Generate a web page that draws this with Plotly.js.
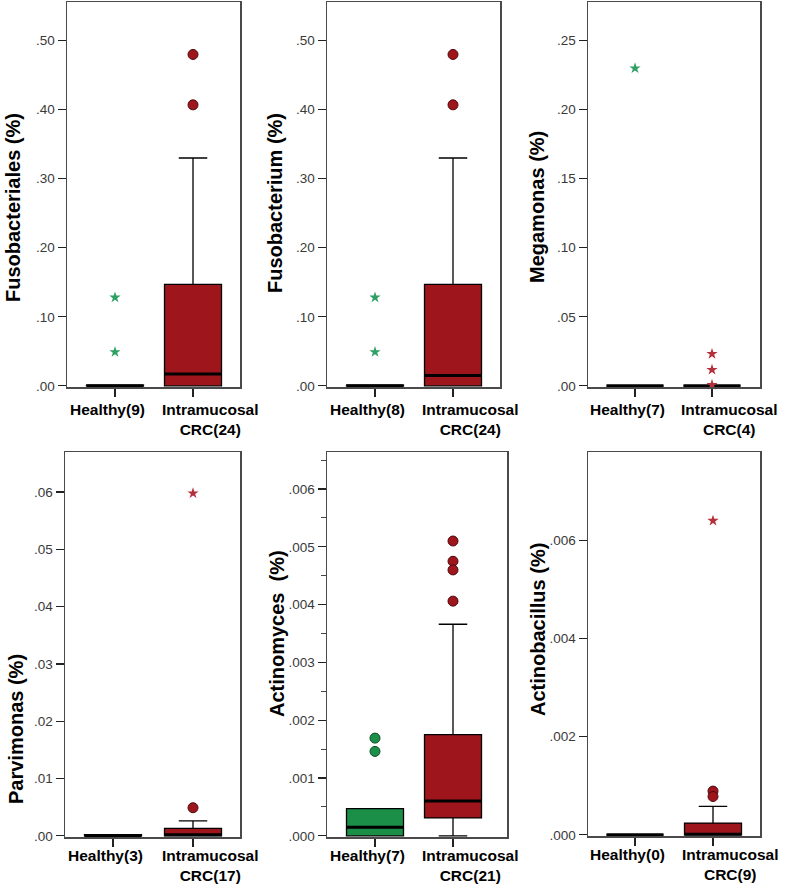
<!DOCTYPE html>
<html>
<head>
<meta charset="utf-8">
<script src="https://cdn.plot.ly/plotly-3.0.1.min.js"></script>
<style>
html,body{margin:0;padding:0;background:#fff;}
#chart{width:786px;height:888px;}
</style>
</head>
<body>
<div id="chart"></div>
<script>
// ---------- DATA ----------
const categories = ["Healthy", "Intramucosal CRC"];
const panelTitles = ["Fusobacteriales (%)", "Fusobacterium (%)", "Megamonas (%)",
                     "Parvimonas (%)", "Actinomyces\u00a0\u00a0(%)", "Actinobacillus (%)"];
const healthyLabels = ["Healthy(9)", "Healthy(8)", "Healthy(7)", "Healthy(3)", "Healthy(7)", "Healthy(0)"];
const crcLabels = ["Intramucosal<br>CRC(24)", "Intramucosal<br>CRC(24)", "Intramucosal<br>CRC(4)",
                   "Intramucosal<br>CRC(17)", "Intramucosal<br>CRC(21)", "Intramucosal<br>CRC(9)"];

// Healthy box statistics
const healthyQ1     = [0, 0, 0, 0, 0, 0];
const healthyMedian = [0, 0, 0, 0, 0.00015, 0];
const healthyQ3     = [0.001, 0.001, 0, 0.0002, 0.00047, 0];
const healthyLow    = [0, 0, 0, 0, 0, 0];
const healthyHigh   = [0.001, 0.001, 0, 0.0002, 0.00047, 0];
// Intramucosal CRC box statistics
const crcQ1     = [0, 0, 0, 0, 0.00031, 0];
const crcMedian = [0.017, 0.015, 0, 0.0002, 0.0006, 0.00001];
const crcQ3     = [0.147, 0.147, 0, 0.0013, 0.00175, 0.00024];
const crcLow    = [0, 0, 0, 0, 0, 0];
const crcHigh   = [0.330, 0.330, 0, 0.0026, 0.00366, 0.00058];

// Outliers (circles) and extreme values (stars)
const healthyCircles = [[], [], [], [], [0.00169, 0.00146], []];
const healthyStars   = [[0.128, 0.049], [0.128, 0.049], [0.23], [], [], []];
const crcCircles     = [[0.48, 0.407], [0.48, 0.407], [], [0.0049], [0.0051, 0.00475, 0.0046, 0.00406], [0.00089, 0.00078]];
const crcStars       = [[], [], [0.0231, 0.0116, 0.0007], [0.0598], [], [0.0064]];

// Tick values and labels
const tickVals = [
  [0, 0.1, 0.2, 0.3, 0.4, 0.5],
  [0, 0.1, 0.2, 0.3, 0.4, 0.5],
  [0, 0.05, 0.10, 0.15, 0.20, 0.25],
  [0, 0.01, 0.02, 0.03, 0.04, 0.05, 0.06],
  [0, 0.001, 0.002, 0.003, 0.004, 0.005, 0.006],
  [0, 0.002, 0.004, 0.006]
];
const tickTexts = [
  [".00", ".10", ".20", ".30", ".40", ".50"],
  [".00", ".10", ".20", ".30", ".40", ".50"],
  [".00", ".05", ".10", ".15", ".20", ".25"],
  [".00", ".01", ".02", ".03", ".04", ".05", ".06"],
  [".000", ".001", ".002", ".003", ".004", ".005", ".006"],
  [".000", ".002", ".004", ".006"]
];
const minorTickVals = [[], [], [], [], [0.0005, 0.0015, 0.0025, 0.0035, 0.0045, 0.0055, 0.0065], []];
const yMax = [0.556, 0.556, 0.278, 0.067, 0.00664, 0.0078];

// ---------- LAYOUT GEOMETRY (pixels) ----------
const W = 786, H = 888;
const geom = [
  {l: 67,  r: 240, t: 2,   b: 387, t0: 115, t1: 193, tx: 13,  ty: 208, lo: 13},
  {l: 327, r: 500, t: 2,   b: 387, t0: 375, t1: 453, tx: 275, ty: 203, lo: 13},
  {l: 588, r: 760, t: 2,   b: 387, t0: 635, t1: 712, tx: 537, ty: 207, lo: 13},
  {l: 65,  r: 240, t: 452, b: 837, t0: 113, t1: 193, tx: 16,  ty: 729, lo: 9},
  {l: 327, r: 507, t: 452, b: 837, t0: 375, t1: 453, tx: 277, ty: 634, lo: 9},
  {l: 588, r: 760, t: 452, b: 836, t0: 635, t1: 713, tx: 538, ty: 630, lo: 9}
];

const RED = "#9E161B", GREEN = "#1B8F48";
const RED_STAR = "#B3303C", GREEN_STAR = "#2FA063";
const FONT = "Liberation Sans, Arial, Helvetica, sans-serif";
const TICKFONT = "Liberation Sans Narrow, Arial Narrow, Liberation Sans, Arial, sans-serif";

const traces = [];
const layout = {
  width: W, height: H,
  margin: {l: 0, r: 0, t: 0, b: 0},
  paper_bgcolor: "#fff", plot_bgcolor: "#fff",
  showlegend: false,
  boxmode: "overlay",
  annotations: []
};

geom.forEach((g, i) => {
  const n = i + 1;
  const xa = "x" + (n === 1 ? "" : n), ya = "y" + (n === 1 ? "" : n);
  const xKey = "xaxis" + (n === 1 ? "" : n), yKey = "yaxis" + (n === 1 ? "" : n);
  const sp = g.t1 - g.t0;
  const boxW = 57 / sp;

  layout[xKey] = {
    domain: [g.l / W, g.r / W],
    anchor: ya,
    type: "category",
    categoryorder: "array", categoryarray: categories,
    range: [-(g.t0 - g.l) / sp, 1 + (g.r - g.t1) / sp],
    showline: true, mirror: true, linecolor: "#4a4a4a", linewidth: 1.5,
    ticks: "outside", ticklen: 8, tickcolor: "#222", tickwidth: 1.3,
    showticklabels: false, showgrid: false, zeroline: false, fixedrange: true
  };
  const pxPerUnit = (g.b - g.t) / yMax[i];
  layout[yKey] = {
    domain: [1 - g.b / H, 1 - g.t / H],
    anchor: xa,
    range: [-1.2 / pxPerUnit, yMax[i]],
    tickmode: "array", tickvals: tickVals[i], ticktext: tickTexts[i],
    ticks: "outside", ticklen: 8, tickcolor: "#222", tickwidth: 1.3,
    tickfont: {family: TICKFONT, size: 13.5, color: "#3a3a3a"},
    showline: true, mirror: true, linecolor: "#4a4a4a", linewidth: 1.5,
    showgrid: false, zeroline: false, fixedrange: true
  };
  if (minorTickVals[i].length) {
    layout[yKey].minor = {tickmode: "array", tickvals: minorTickVals[i], ticks: "outside",
                          ticklen: 5, tickcolor: "#444", tickwidth: 1, showgrid: false};
  }

  const boxBase = {type: "box", xaxis: xa, yaxis: ya, width: boxW, whiskerwidth: 0.5,
                   boxpoints: false, hoverinfo: "skip", showlegend: false};
  // boxes (thin outline)
  traces.push(Object.assign({}, boxBase, {
    x: [categories[0]],
    q1: [healthyQ1[i]], median: [healthyMedian[i]], q3: [healthyQ3[i]],
    lowerfence: [healthyLow[i]], upperfence: [healthyHigh[i]],
    fillcolor: GREEN, line: {color: "#000", width: 1.3}
  }));
  traces.push(Object.assign({}, boxBase, {
    x: [categories[1]],
    q1: [crcQ1[i]], median: [crcMedian[i]], q3: [crcQ3[i]],
    lowerfence: [crcLow[i]], upperfence: [crcHigh[i]],
    fillcolor: RED, line: {color: "#000", width: 1.3}
  }));
  // thick median bars (flat box at the median)
  traces.push(Object.assign({}, boxBase, {
    x: categories,
    q1: [healthyMedian[i], crcMedian[i]], median: [healthyMedian[i], crcMedian[i]],
    q3: [healthyMedian[i], crcMedian[i]],
    lowerfence: [healthyMedian[i], crcMedian[i]], upperfence: [healthyMedian[i], crcMedian[i]],
    fillcolor: "rgba(0,0,0,0)", line: {color: "#000", width: 3}
  }));
  // outliers
  const addPts = (vals, cat, symbol, color, size, lineColor, lw) => {
    if (!vals.length) return;
    traces.push({
      type: "scatter", mode: "markers", xaxis: xa, yaxis: ya,
      x: vals.map(() => cat), y: vals,
      marker: {symbol: symbol, size: size, color: color, line: {color: lineColor, width: lw}},
      cliponaxis: false, hoverinfo: "skip", showlegend: false
    });
  };
  addPts(healthyCircles[i], categories[0], "circle", GREEN, 10, "#0d4d26", 1);
  addPts(healthyStars[i], categories[0], "star", GREEN_STAR, 8.5, GREEN_STAR, 0);
  addPts(crcCircles[i], categories[1], "circle", RED, 10, "#4d0a0d", 1);
  addPts(crcStars[i], categories[1], "star", RED_STAR, 8.5, RED_STAR, 0);

  // y-axis title
  layout.annotations.push({
    text: panelTitles[i], xref: "paper", yref: "paper",
    x: g.tx / W, y: 1 - g.ty / H, xanchor: "center", yanchor: "middle",
    textangle: -90, showarrow: false,
    font: {family: FONT, size: 20, color: "#000", weight: "bold"}
  });
  // category labels
  layout.annotations.push({
    text: healthyLabels[i], xref: xa, yref: "paper",
    x: categories[0], xshift: -8, y: 1 - (g.b + g.lo) / H, yanchor: "top", xanchor: "center",
    borderpad: 0,
    showarrow: false, font: {family: FONT, size: 15.5, color: "#000", weight: "bold"}
  });
  layout.annotations.push({
    text: crcLabels[i], xref: xa, yref: "paper",
    x: categories[1], xshift: 17, y: 1 - (g.b + g.lo) / H, yanchor: "top", xanchor: "center",
    align: "center", borderpad: 0,
    showarrow: false, font: {family: FONT, size: 15.5, color: "#000", weight: "bold"}
  });
});

Plotly.newPlot("chart", traces, layout, {displayModeBar: false, staticPlot: true});
</script>
</body>
</html>
